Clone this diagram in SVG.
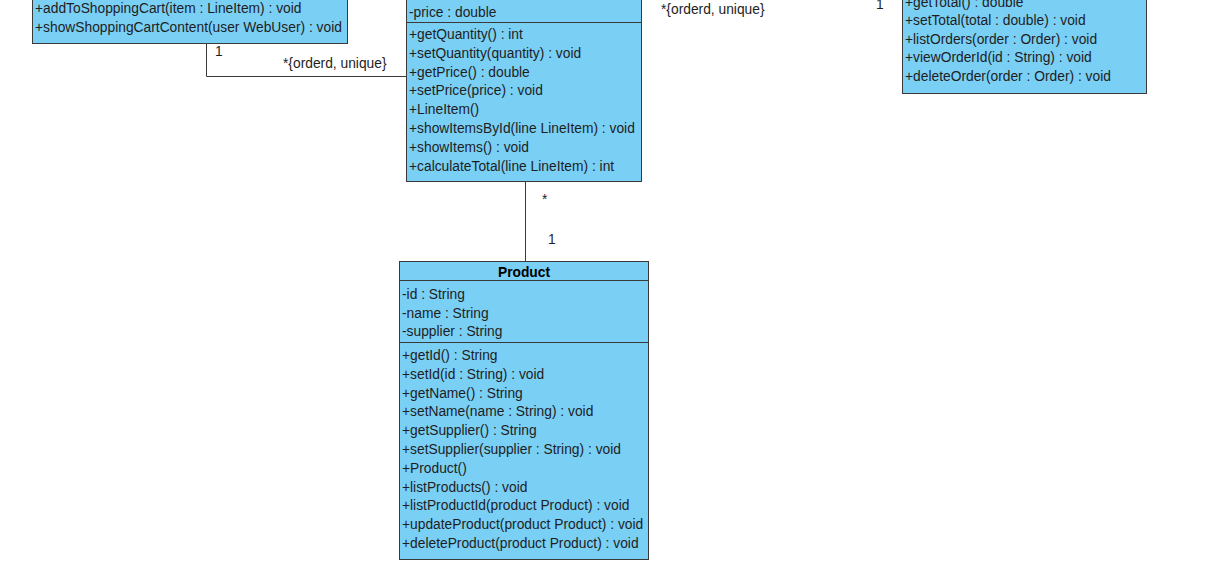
<svg xmlns="http://www.w3.org/2000/svg" width="1218" height="580" viewBox="0 0 1218 580">
  <style>
    .box { fill: #7acff5; stroke: #3a3a3a; stroke-width: 1; }
    .sep { stroke: #3a3a3a; stroke-width: 1; fill: none; }
    .t { font-family: "Liberation Sans", Arial, sans-serif; font-size: 13.8px; fill: #1e1e1e; }
    .title { font-family: "Liberation Sans", Arial, sans-serif; font-size: 13.8px; font-weight: bold; fill: #000; text-anchor: middle; }
    .conn { stroke: #3a3a3a; stroke-width: 1; fill: none; }
  </style>
  <rect width="1218" height="580" fill="#ffffff"/>

  <!-- associations -->
  <g id="connectors">
    <path class="conn" d="M206.5,43 V76.5 H406"/>
    <path class="conn" d="M525.5,181 V261"/>
    <text class="t" x="215" y="56">1</text>
    <text class="t" x="283" y="68">*{orderd, unique}</text>
    <text class="t" x="542" y="204">*</text>
    <text class="t" x="548" y="244">1</text>
    <text class="t" x="661" y="14">*{orderd, unique}</text>
    <text class="t" x="876" y="9">1</text>
  </g>

  <!-- ShoppingCart (partly above the top edge) -->
  <g id="shoppingcart">
    <rect class="box" x="32.5" y="-20" width="315" height="63.5"/>
    <text class="t" x="35" y="12.5">+addToShoppingCart(item : LineItem) : void</text>
    <text class="t" x="35" y="31.5">+showShoppingCartContent(user WebUser) : void</text>
  </g>

  <!-- LineItem -->
  <g id="lineitem">
    <rect class="box" x="406.5" y="-20" width="235" height="201.5"/>
    <text class="t" x="409" y="16.5">-price : double</text>
    <line class="sep" x1="406.5" y1="22.5" x2="641.5" y2="22.5"/>
    <text class="t" x="409" y="38.5">+getQuantity() : int</text>
    <text class="t" x="409" y="57.5">+setQuantity(quantity) : void</text>
    <text class="t" x="409" y="76.5">+getPrice() : double</text>
    <text class="t" x="409" y="94.5">+setPrice(price) : void</text>
    <text class="t" x="409" y="113.5">+LineItem()</text>
    <text class="t" x="409" y="132.5">+showItemsById(line LineItem) : void</text>
    <text class="t" x="409" y="151.5">+showItems() : void</text>
    <text class="t" x="409" y="170.5">+calculateTotal(line LineItem) : int</text>
  </g>

  <!-- Order (partly above the top edge) -->
  <g id="order">
    <rect class="box" x="902.5" y="-20" width="244" height="113.5"/>
    <text class="t" x="905" y="6.5">+getTotal() : double</text>
    <text class="t" x="905" y="24.5">+setTotal(total : double) : void</text>
    <text class="t" x="905" y="43.5">+listOrders(order : Order) : void</text>
    <text class="t" x="905" y="61.5">+viewOrderId(id : String) : void</text>
    <text class="t" x="905" y="80.5">+deleteOrder(order : Order) : void</text>
  </g>

  <!-- Product -->
  <g id="product">
    <rect class="box" x="399.5" y="261.5" width="249" height="298"/>
    <text class="title" x="524" y="276.5">Product</text>
    <line class="sep" x1="399.5" y1="280.5" x2="648.5" y2="280.5"/>
    <text class="t" x="402" y="298.5">-id : String</text>
    <text class="t" x="402" y="317.5">-name : String</text>
    <text class="t" x="402" y="336">-supplier : String</text>
    <line class="sep" x1="399.5" y1="342.5" x2="648.5" y2="342.5"/>
    <text class="t" x="402" y="359.5">+getId() : String</text>
    <text class="t" x="402" y="378.5">+setId(id : String) : void</text>
    <text class="t" x="402" y="397.5">+getName() : String</text>
    <text class="t" x="402" y="415.5">+setName(name : String) : void</text>
    <text class="t" x="402" y="434.5">+getSupplier() : String</text>
    <text class="t" x="402" y="453.5">+setSupplier(supplier : String) : void</text>
    <text class="t" x="402" y="472.5">+Product()</text>
    <text class="t" x="402" y="491.5">+listProducts() : void</text>
    <text class="t" x="402" y="509.5">+listProductId(product Product) : void</text>
    <text class="t" x="402" y="528.5">+updateProduct(product Product) : void</text>
    <text class="t" x="402" y="547.5">+deleteProduct(product Product) : void</text>
  </g>
</svg>
